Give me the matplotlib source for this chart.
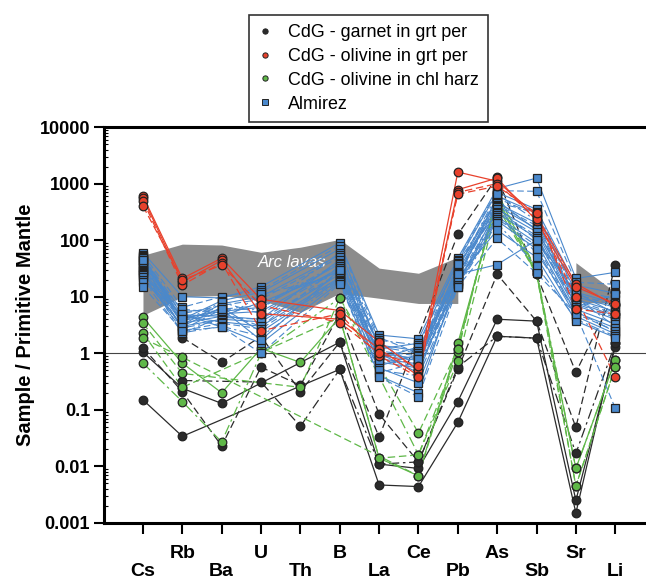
import numpy as np
import matplotlib
matplotlib.use('Agg')
import matplotlib.pyplot as plt
from matplotlib.lines import Line2D

plt.rcParams['font.family'] = ['Liberation Sans', 'DejaVu Sans']

nan = np.nan
elements = ['Cs', 'Rb', 'Ba', 'U', 'Th', 'B', 'La', 'Ce', 'Pb', 'As', 'Sb', 'Sr', 'Li']

# Arc lavas field (upper / lower)
arc_idx = [0, 1, 2, 3, 4, 5, 6, 7, 8]
arc_hi = [54, 85, 82, 61, 75, 103, 32, 26, 50]
arc_lo = [4.7, 10, 10.5, 8.6, 5.3, 11.5, 9.4, 7.6, 7.6]
arc2_idx = [11, 12]
arc2_hi = [40, 12]
arc2_lo = [8, 7.6]

# CdG - garnet in grt per
garnet = [
    [0.15, 0.034, nan, nan, nan, 0.52, 0.0047, 0.0044, 0.06, 2.0, 1.85, 0.0015, 1.5],
    [1.05, 0.24, 0.13, nan, nan, 1.57, 0.011, 0.0092, 0.14, 4.0, 3.7, 0.0025, 1.3],
    [1.25, 0.21, 0.023, 0.57, 0.27, 5.0, 0.084, 0.012, 0.52, 25, 3.7, 0.049, 37],
    [nan, 1.9, 0.69, 2.0, 0.21, 1.57, 0.033, nan, 126, 1300, nan, 0.46, 12],
    [nan, 0.33, nan, 0.31, 0.051, 0.52, 0.011, 0.012, 0.57, 2.0, 1.85, 0.017, 1.5],
]
garnet_ls = ['-', '-', (0, (6, 3)), (0, (6, 3)), (0, (8, 3, 2, 3))]

# CdG - olivine in grt per
ol_grt = [
    [600, 21, 48, 9, nan, 5.7, 1.6, 0.5, 1600, 1100, 270, 17, 7],
    [560, 18, 44, 5, nan, 4.0, 1.2, 0.4, 780, 1250, 220, 15, 7.5],
    [500, 16, 40, 2.5, nan, 5.0, 0.9, 0.38, 700, 1000, 240, 10, 0.38],
    [400, 20, 36, 7, nan, 3.5, 1.0, 0.6, 650, 900, 300, 6, 5],
]
ol_grt_ls = ['-', '-', (0, (6, 3)), (0, (6, 3))]

# CdG - olivine in chl harz
ol_chl = [
    [4.3, 0.67, 0.2, 1.22, 0.69, 4.3, 0.014, 0.0068, 1.5, 500, 25, 0.0092, 0.75],
    [3.4, 0.44, nan, nan, 0.25, 9.4, nan, 0.039, 1.2, 650, 30, 0.0045, 0.57],
    [0.67, 0.14, 0.027, 1.0, nan, 9.4, nan, 0.016, 1.05, 700, 28, 0.0092, 0.75],
    [2.25, 0.25, nan, nan, nan, 4.3, 0.014, 0.016, 0.72, 400, 25, 0.0045, 0.57],
    [1.84, 0.85, nan, nan, nan, nan, nan, 0.0068, 1.2, 550, 27, nan, nan],
]
ol_chl_ls = ['-', (0, (6, 3)), (0, (8, 3, 2, 3)), (0, (6, 3)), (0, (6, 3))]

# Almirez
almirez = [
    [60, 10, 9.5, 15, nan, 90, 2.1, 1.8, 48, 820, 1250, 21, 27],
    [55, 6.5, 10, 13, nan, 80, 1.9, 1.0, 45, 750, 730, 18, 16.6],
    [52, 4.0, 8.5, 12, nan, 70, 1.2, 1.5, 42, 700, 350, 16, 11.5],
    [50, 5.5, 6.0, 6, nan, 60, 1.7, 1.4, 40, 450, 320, 14, 9],
    [48, 3.2, 7.5, 10, nan, 55, 0.8, 1.3, 20, 600, 300, 12, 7.6],
    [45, 5.0, 7.0, 9, nan, 50, 1.5, 0.6, 35, 550, 280, 11, 7],
    [42, 4.8, 4.5, 4, nan, 45, 1.4, 1.1, 32, 500, 150, 10, 6.5],
    [40, 2.6, 6.0, 7, nan, 40, 1.3, 1.0, 30, 650, 220, 9.5, 3],
    [38, 4.2, 5.5, 6.5, nan, 38, 0.6, 0.95, 28, 450, 200, 9, 5.5],
    [36, 6.0, 5.2, 3, nan, 35, 1.1, 0.9, 26, 420, 180, 8.5, 5],
    [34, 3.8, 5.0, 5.5, nan, 32, 1.0, 0.45, 25, 400, 160, 8, 4.6],
    [32, 3.6, 8.0, 5, nan, 30, 0.95, 0.8, 24, 380, 100, 7.5, 4.3],
    [30, 3.4, 4.5, 8, nan, 28, 0.9, 0.75, 17, 350, 140, 7, 4],
    [28, 2.3, 4.3, 4, nan, 26, 0.45, 0.7, 21, 320, 120, 6.5, 11],
    [27, 3.0, 4.0, 3.6, nan, 25, 0.8, 0.65, 38, 300, 110, 6, 3.3],
    [26, 2.8, 3.8, 11, nan, 24, 0.75, 0.6, 19, 280, 60, 5.5, 2.4],
    [25, 4.5, 3.6, 3, nan, 22, 0.7, 0.55, 18, 260, 90, 5.3, 2.8],
    [24, 2.5, 3.4, 2.7, nan, 21, 1.6, 0.5, 17, 240, 80, 5, 2.5],
    [22, 3.0, 6.5, 2.4, nan, 20, 0.55, 0.3, 16, 220, 70, 4.5, 2.2],
    [20, 2.3, 3.0, 2.0, nan, 19, 0.5, 0.4, 15, 200, 35, 4, 2.0],
    [18, 5.0, 2.9, 1.5, nan, 18, 0.4, 0.2, 22, 150, 50, 3.7, 1.9],
    [15, 2.5, 2.9, 1.0, nan, 17, 0.38, 0.17, 15, 107, 26, 5, 0.107],
    [45, 4.0, 6.0, 1.7, nan, 30, 1.0, 0.8, 25, 37, 100, 12, 5],
]
almirez_ls = ['-', (0, (6, 3)), '-', (0, (8, 3, 2, 3))]

c_black = '#2b2b2b'
c_red = '#e8412c'
c_green = '#5fb848'
c_blue = '#4a88cc'

fig = plt.figure(figsize=(6.46, 5.84), dpi=100)
ax = fig.add_axes([0.161, 0.1045, 0.845, 0.678])

x = np.arange(len(elements))

ax.fill_between(arc_idx, arc_lo, arc_hi, color='#8c8c8c', lw=0, zorder=1)
ax.fill_between(arc2_idx, arc2_lo, arc2_hi, color='#8c8c8c', lw=0, zorder=1)
ax.text(3.8, 40, 'Arc lavas', color='white', style='italic', fontsize=12,
        ha='center', va='center', zorder=1.5)
ax.axhline(1, color='#444444', lw=0.8, zorder=1.6)


def draw(group, styles, color, marker, ms, lw, zl, zm):
    for i, row in enumerate(group):
        v = np.array(row, dtype=float)
        m = ~np.isnan(v)
        ax.plot(x[m], v[m], color=color, lw=lw, ls=styles[i % len(styles)], zorder=zl)
    for row in group:
        v = np.array(row, dtype=float)
        m = ~np.isnan(v)
        ax.plot(x[m], v[m], ls='none', marker=marker, ms=ms, mfc=color,
                mec='#222222', mew=0.9, zorder=zm)


draw(garnet, garnet_ls, c_black, 'o', 6.2, 0.9, 2, 5)
draw(ol_chl, ol_chl_ls, c_green, 'o', 6.2, 0.9, 2.2, 5.2)
draw(almirez, almirez_ls, c_blue, 's', 5.6, 0.8, 2.4, 5.4)
draw(ol_grt, ol_grt_ls, c_red, 'o', 6.2, 0.9, 2.6, 5.6)

ax.set_yscale('log')
ax.set_ylim(0.001, 10000)
ax.set_xlim(-0.99, 12.88)
ax.set_yticks([0.001, 0.01, 0.1, 1, 10, 100, 1000, 10000])
ax.set_yticklabels(['0.001', '0.01', '0.1', '1', '10', '100', '1000', '10000'],
                   fontsize=13, fontweight='bold')
ax.yaxis.set_minor_locator(matplotlib.ticker.LogLocator(base=10, subs=np.arange(2, 10), numticks=20))
ax.yaxis.set_minor_formatter(matplotlib.ticker.NullFormatter())
ax.tick_params(axis='y', which='major', direction='out', length=7, width=1.5, pad=3)
ax.tick_params(axis='y', which='minor', direction='in', length=3, width=0.8)
ax.tick_params(axis='y', which='both', right=False)

ax.set_xticks(x)
ax.set_xticklabels([e if i % 2 else '\n' + e for i, e in enumerate(elements)],
                   fontsize=14, fontweight='bold', linespacing=1.1)
ax.tick_params(axis='x', direction='out', length=8, width=1.5, pad=8)

for s in ax.spines.values():
    s.set_linewidth(2.2)
ax.spines['right'].set_visible(False)

ax.set_ylabel('Sample / Primitive Mantle', fontsize=14.5, fontweight='bold', labelpad=3)

handles = [
    Line2D([], [], ls='none', marker='o', ms=3.8, mfc=c_black, mec='#222222', mew=0.7),
    Line2D([], [], ls='none', marker='o', ms=3.8, mfc=c_red, mec='#222222', mew=0.7),
    Line2D([], [], ls='none', marker='o', ms=3.8, mfc=c_green, mec='#222222', mew=0.7),
    Line2D([], [], ls='none', marker='s', ms=3.8, mfc=c_blue, mec='#222222', mew=0.7),
]
labels = ['CdG - garnet in grt per', 'CdG - olivine in grt per',
          'CdG - olivine in chl harz', 'Almirez']
leg = fig.legend(handles, labels, loc='upper center', bbox_to_anchor=(0.570, 0.974),
                 fontsize=12.9, frameon=True, fancybox=False, edgecolor='black',
                 labelspacing=0.38, handlelength=0.8, handletextpad=0.9, borderpad=0.5,
                 borderaxespad=0)
leg.get_frame().set_linewidth(1.2)

fig.savefig('out.png', dpi=100)
